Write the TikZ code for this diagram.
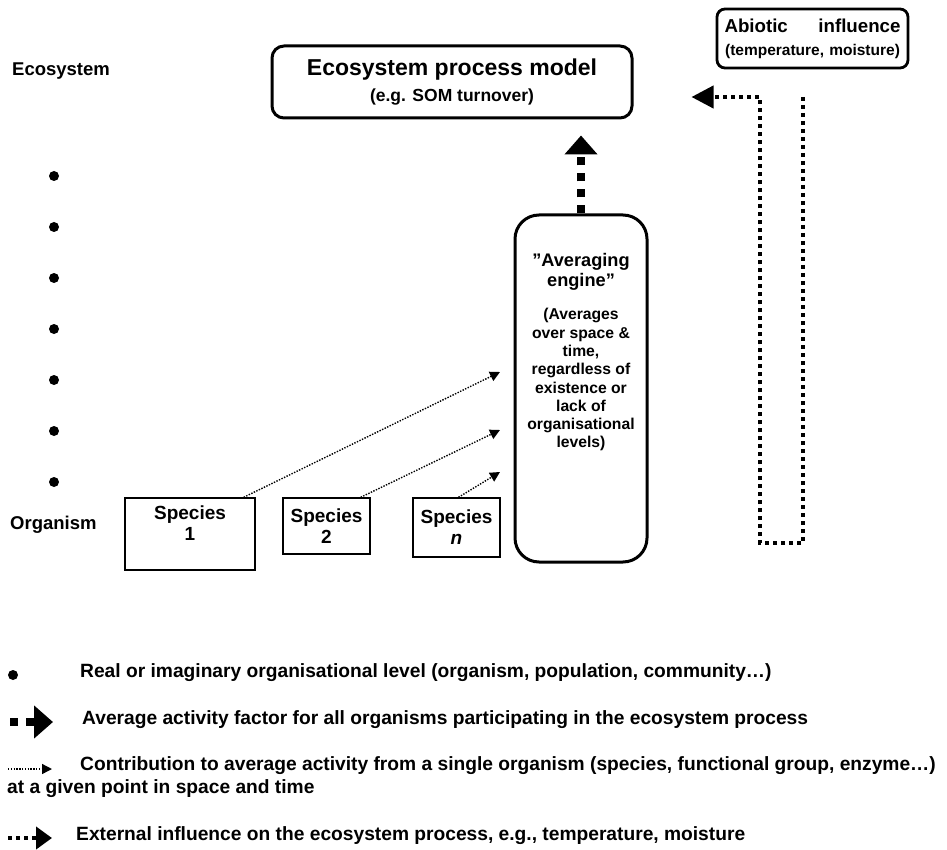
\documentclass[tikz,border=0pt]{standalone}
\usepackage{fontspec}
\setmainfont{Liberation Sans}
\usetikzlibrary{arrows.meta}

\begin{document}
\begin{tikzpicture}[x=1pt,y=-1pt]
    \useasboundingbox (0,0) rectangle (947,850);

    % Styling
    \tikzset{
        c_model/.style={draw, line width=3pt, rounded corners=12pt, minimum width=360pt, minimum height=72pt, align=center, inner sep=0pt, font=\fontsize{17.5}{26}\selectfont\bfseries},
        c_avg/.style={draw, line width=3pt, rounded corners=24pt, minimum width=132pt, minimum height=347pt},
        c_avgtxt/.style={align=center, inner sep=0pt, font=\fontsize{15.7}{18.3}\selectfont\bfseries},
        c_abio/.style={draw, line width=2.8pt, rounded corners=8pt, minimum width=191pt, minimum height=59pt, text width=176pt, align=center, inner sep=0pt, font=\fontsize{15.5}{23}\selectfont\bfseries},
        c_species/.style={draw, line width=1.4pt, minimum width=87pt, align=center, inner sep=0pt, font=\fontsize{19}{21}\selectfont\bfseries},
        c_level/.style={circle, fill=black, inner sep=0pt, minimum size=10pt},
        c_lbl/.style={anchor=mid west, inner sep=0pt, font=\fontsize{18.5}{22}\selectfont\bfseries},
        c_leg/.style={anchor=mid west, inner sep=0pt, font=\fontsize{19.2}{23}\selectfont\bfseries},
        c_mean/.style={line width=8pt, dash pattern=on 8pt off 8pt, -{Triangle[length=19pt,width=32pt]}},
        c_single/.style={line width=1.4pt, dash pattern=on 1.4pt off 1.4pt, -{Triangle[length=10pt,width=10pt]}},
        c_ext/.style={line width=4pt, dash pattern=on 4pt off 4pt, -{Triangle[length=22pt,width=22pt]}}
    }

    % Define points
    \coordinate (t1) at (500,372);
    \coordinate (t2) at (500,430);
    \coordinate (t3) at (500,472);
    \coordinate (e1) at (803,97);
    \coordinate (e2) at (803,543);
    \coordinate (e3) at (760,543);
    \coordinate (e4) at (760,97);
    \coordinate (l2a) at (10,722);
    \coordinate (l2b) at (53,722);
    \coordinate (l3a) at (8,769);
    \coordinate (l3b) at (52,769);
    \coordinate (l4a) at (8,838);
    \coordinate (l4b) at (52,838);

    % Levels
    \node[c_lbl] (eco) at (12,73) {Ecosystem};
    \node[c_lbl] (org) at (10,527) {Organism};
    \foreach \y [count=\i] in {176,227,...,483} {
        \node[c_level] (lvl\i) at (54,\y) {};
    }

    % Boxes
    \node[c_model] (model) at (452,82) {{\fontsize{23}{26}\selectfont Ecosystem process model}\\(e.g. SOM turnover)};
    \node[c_avg] (avg) at (581,388.5) {};
    \node[c_avgtxt, anchor=north] (avgtxt) at ([yshift=-40pt]avg.north) {{\fontsize{18.2}{20}\selectfont ”Averaging}\\[1.7pt]{\fontsize{18.2}{20}\selectfont engine”}\\[14.7pt](Averages\\over space \&\\time,\\regardless of\\existence or\\lack of\\organisational\\levels)};
    \node[c_abio] (abio) at (812.5,38.5) {{\fontsize{18.7}{23}\selectfont\hbox to 176pt{Abiotic\hfill influence}}\\(temperature, moisture)};
    \node[c_species, minimum width=130pt, minimum height=72pt] (s1) at (190,534) {Species\\1\\\mbox{}};
    \node[c_species, minimum height=56pt] (s2) at (326.5,526) {Species\\2};
    \node[c_species, minimum height=59pt] (sn) at (456.5,527.5) {Species\\\textit{n}};

    % Draw arrows
    \draw[c_single] ([xshift=-12pt]s1.north east) -- (t1);
    \draw[c_single] ([xshift=-10pt]s2.north east) -- (t2);
    \draw[c_single] ([xshift=2pt]sn.north) -- (t3);
    \draw[c_mean, shorten >=16pt] (avg.north) -- (avg.north |- model.south);
    \draw[c_ext, shorten >=58pt] (e1) -- (e2) -- (e3) -- (e4) -- (model.east |- e4);

    % Legend
    \node[c_level] (leg1dot) at (13,675) {};
    \node[c_leg] (leg1) at (80,675) {Real or imaginary organisational level (organism, population, community…)};
    \draw[c_mean] (l2a) -- (l2b);
    \node[c_leg] (leg2) at (82,722) {Average activity factor for all organisms participating in the ecosystem process};
    \draw[c_single] (l3a) -- (l3b);
    \node[c_leg] (leg3) at (80,768) {Contribution to average activity from a single organism (species, functional group, enzyme…)};
    \node[c_leg] (leg3b) at (7,791) {at a given point in space and time};
    \draw[c_ext, -{Triangle[length=16pt,width=22pt]}] (l4a) -- (l4b);
    \node[c_leg] (leg4) at (76,838) {External influence on the ecosystem process, e.g., temperature, moisture};
\end{tikzpicture}
\end{document}
